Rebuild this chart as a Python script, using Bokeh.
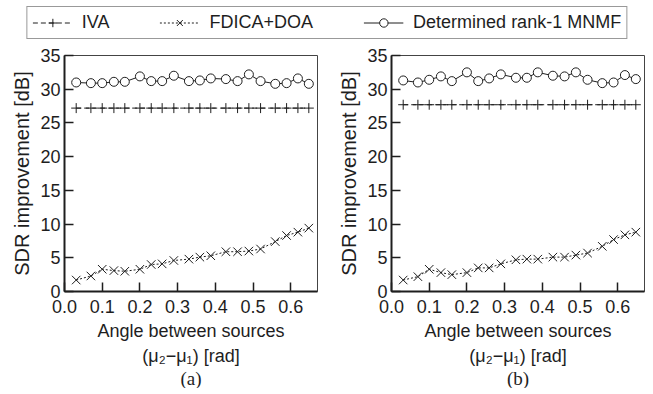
from bokeh.plotting import figure
from bokeh.models import Range1d, FixedTicker, PrintfTickFormatter, Title, Legend, LegendItem
from bokeh.layouts import column, row
from bokeh.embed import file_html
from bokeh.resources import INLINE

# ---------------- data ----------------
angles = [0.031, 0.070, 0.100, 0.131, 0.160, 0.200, 0.230, 0.259, 0.290, 0.330,
          0.359, 0.388, 0.428, 0.459, 0.489, 0.520, 0.559, 0.589, 0.619, 0.648]

iva_a = [27.2, 27.2, 27.2, 27.2, 27.2, 27.2, 27.2, 27.2, 27.2, 27.2,
         27.2, 27.2, 27.2, 27.2, 27.2, 27.2, 27.2, 27.2, 27.2, 27.2]
fdica_a = [1.7, 2.3, 3.3, 3.1, 3.0, 3.3, 4.0, 4.1, 4.6, 4.8,
           5.1, 5.3, 5.9, 5.9, 6.0, 6.3, 7.4, 8.3, 8.8, 9.4]
mnmf_a = [31.0, 30.9, 30.9, 31.1, 31.1, 31.9, 31.2, 31.2, 32.0, 31.2,
          31.3, 31.6, 31.5, 31.2, 32.2, 31.2, 30.8, 30.9, 31.6, 30.8]

iva_b = [27.7, 27.7, 27.7, 27.7, 27.7, 27.7, 27.7, 27.7, 27.7, 27.7,
         27.7, 27.7, 27.7, 27.7, 27.7, 27.7, 27.7, 27.7, 27.7, 27.7]
fdica_b = [1.7, 2.2, 3.3, 2.8, 2.5, 2.8, 3.5, 3.5, 4.1, 4.7,
           4.8, 4.8, 5.1, 5.1, 5.4, 5.7, 6.7, 7.7, 8.4, 8.8]
mnmf_b = [31.3, 31.0, 31.4, 31.9, 31.2, 32.5, 31.2, 31.6, 32.2, 31.7,
          31.7, 32.5, 32.0, 31.9, 32.5, 31.4, 30.9, 31.0, 32.1, 31.5]

x_ticks = [0.0, 0.1, 0.2, 0.3, 0.4, 0.5, 0.6]
y_ticks = [0, 5, 10, 15, 20, 25, 30, 35]

series_names = ["IVA", "FDICA+DOA", "Determined rank-1 MNMF"]
y_label = "SDR improvement [dB]"
x_label = "Angle between sources"
x_label2 = "(\u03bc\u2082\u2212\u03bc\u2081) [rad]"
captions = ["(a)", "(b)"]

INK = "#1e1e1e"
SANS = "Liberation Sans"
SERIF = "Liberation Serif"


def style_iva(p, xs, ys):
    l = p.line(xs, ys, line_color=INK, line_width=1, line_dash="5 3")
    m = p.scatter(xs, ys, marker="cross", size=10, line_color=INK, line_width=1)
    return l, m


def style_fdica(p, xs, ys):
    l = p.line(xs, ys, line_color=INK, line_width=1, line_dash="2 2")
    m = p.scatter(xs, ys, marker="x", size=12, line_color=INK, line_width=1)
    return l, m


def style_mnmf(p, xs, ys):
    l = p.line(xs, ys, line_color=INK, line_width=1)
    m = p.scatter(xs, ys, marker="circle", size=9, line_color=INK,
                  fill_color="white", line_width=1)
    return l, m


def make_panel(iva, fdica, mnmf, caption, b_left, b_right):
    p = figure(output_backend="svg", toolbar_location=None,
               frame_width=253, frame_height=236,
               min_border_left=b_left, min_border_right=b_right,
               min_border_top=9, min_border_bottom=10,
               x_range=Range1d(0, 0.671), y_range=Range1d(0, 35))
    p.grid.visible = False
    p.outline_line_color = "#444444"
    p.outline_line_width = 1
    p.background_fill_color = "white"
    p.border_fill_color = "white"

    style_iva(p, angles, iva)
    style_fdica(p, angles, fdica)
    style_mnmf(p, angles, mnmf)

    for ax in (p.xaxis[0], p.yaxis[0]):
        ax.major_tick_in = 9
        ax.major_tick_out = 0
        ax.minor_tick_line_color = None
        ax.axis_line_color = INK
        ax.axis_line_width = 2
        ax.major_tick_line_color = INK
        ax.major_tick_line_width = 1.5
        ax.major_label_text_font = SANS
        ax.major_label_text_font_size = "18px"
        ax.major_label_text_color = INK
        ax.axis_label_text_font = SANS
        ax.axis_label_text_font_style = "normal"
        ax.axis_label_text_color = INK

    p.xaxis.ticker = FixedTicker(ticks=x_ticks)
    p.xaxis.formatter = PrintfTickFormatter(format="%.1f")
    p.xaxis.major_label_standoff = 8
    p.xaxis.axis_label = x_label
    p.xaxis.axis_label_text_font_size = "18px"
    p.xaxis.axis_label_standoff = 5

    p.yaxis.ticker = FixedTicker(ticks=y_ticks)
    p.yaxis.major_label_standoff = 4
    p.yaxis.axis_label = y_label
    p.yaxis.axis_label_text_font_size = "20px"
    p.yaxis.axis_label_standoff = 4

    p.add_layout(Title(text=x_label2, align="center", text_font=SANS,
                       text_font_size="18px", text_font_style="normal",
                       text_color=INK, standoff=0, offset=0), "below")
    p.add_layout(Title(text=caption, align="center", text_font=SERIF,
                       text_font_size="19px", text_font_style="normal",
                       text_color=INK, standoff=0, offset=0), "below")
    return p


p1 = make_panel(iva_a, fdica_a, mnmf_a, captions[0], 64, 18)
p2 = make_panel(iva_b, fdica_b, mnmf_b, captions[1], 54, 11)

# ---------------- legend strip ----------------
leg = figure(output_backend="svg", toolbar_location=None, width=653, height=46,
             min_border=0, x_axis_location=None, y_axis_location=None,
             x_range=Range1d(10, 11), y_range=Range1d(-100, -99))
leg.grid.visible = False
leg.outline_line_color = None
r1, r1m = style_iva(leg, angles, iva_a)
r2, r2m = style_fdica(leg, angles, fdica_a)
r3, r3m = style_mnmf(leg, angles, mnmf_a)
legend = Legend(items=[LegendItem(label=series_names[0], renderers=[r1, r1m]),
                       LegendItem(label=series_names[1], renderers=[r2, r2m]),
                       LegendItem(label=series_names[2], renderers=[r3, r3m])],
                orientation="horizontal", location="top_center", margin=6,
                padding=5, spacing=50, glyph_width=40, glyph_height=21,
                label_standoff=10, label_height=21,
                label_text_font=SANS, label_text_font_size="18px",
                label_text_color=INK, border_line_color="#333333",
                border_line_width=1, background_fill_color="white",
                background_fill_alpha=1)
leg.add_layout(legend, "center")

layout = column(leg, row(p1, p2))
open("out.html", "w").write(file_html(layout, INLINE))
